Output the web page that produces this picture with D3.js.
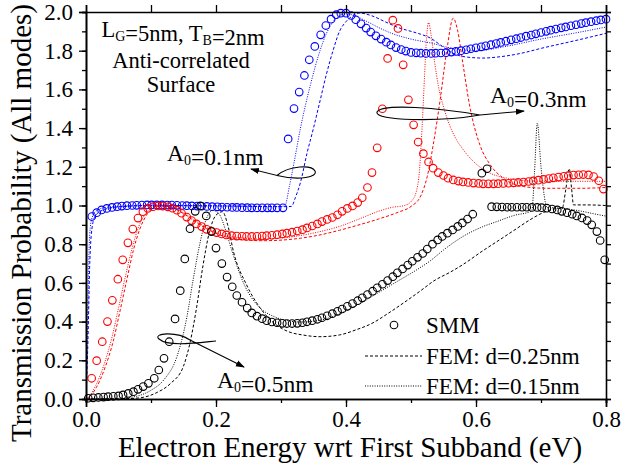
<!DOCTYPE html>
<html><head><meta charset="utf-8">
<script src="https://cdn.jsdelivr.net/npm/d3@7/dist/d3.min.js"></script>
<style>
body{margin:0;background:#fff}
svg{display:block}
text{font-family:"Liberation Serif","Times New Roman",serif;fill:#000}
</style>
</head><body>
<svg id="c" width="621" height="468"></svg>
<script>
// ---------- data ----------
const xMajor=[0,0.2,0.4,0.6,0.8];
const xMinor=[0,0.1,0.2,0.3,0.4,0.5,0.6,0.7,0.8];
const yMajor=[0,0.2,0.4,0.6,0.8,1.0,1.2,1.4,1.6,1.8,2.0];
const yMinor=[0,0.1,0.2,0.3,0.4,0.5,0.6,0.7,0.8,0.9,1.0,1.1,1.2,1.3,1.4,1.5,1.6,1.7,1.8,1.9,2.0];
const xTitle="Electron Energy wrt First Subband (eV)";
const yTitle="Transmission Probability (All modes)";
const legendLabels=["SMM","FEM: d=0.25nm","FEM: d=0.15nm"];

// SMM, A0=0.1nm (blue circles)
const smmA01=[[0.009,0.943],[0.0165,0.963],[0.024,0.977],[0.032,0.985],[0.040,0.990],[0.048,0.994],[0.055,0.997],[0.063,0.999],[0.071,1.000],[0.078,1.001],[0.086,1.002],[0.094,1.003],[0.101,1.003],[0.109,1.003],[0.117,1.003],[0.125,1.002],[0.132,1.002],[0.140,1.001],[0.148,1.000],[0.155,0.999],[0.163,0.998],[0.171,0.997],[0.178,0.996],[0.186,0.995],[0.194,0.994],[0.202,0.993],[0.209,0.992],[0.217,0.991],[0.225,0.990],[0.232,0.990],[0.240,0.989],[0.248,0.989],[0.255,0.988],[0.263,0.988],[0.271,0.988],[0.279,0.988],[0.286,0.988],[0.294,0.988],[0.303,0.988],
[0.311,1.344],[0.320,1.501],[0.328,1.586],[0.336,1.672],[0.3435,1.753],[0.352,1.822],[0.361,1.882],[0.369,1.930],[0.377,1.963],[0.385,1.986],[0.392,1.994],[0.400,1.994],[0.408,1.982],[0.415,1.960],[0.423,1.939],[0.431,1.917],[0.438,1.896],[0.446,1.877],[0.454,1.860],[0.462,1.844],[0.469,1.830],[0.477,1.816],[0.485,1.806],[0.492,1.798],[0.500,1.791],
[0.508,1.789],[0.515,1.787],[0.523,1.786],[0.531,1.786],[0.538,1.787],[0.546,1.788],[0.554,1.790],[0.562,1.793],[0.569,1.796],[0.577,1.800],[0.585,1.805],[0.592,1.810],[0.600,1.815],[0.608,1.820],[0.615,1.825],[0.623,1.831],[0.631,1.837],[0.638,1.843],[0.646,1.849],[0.654,1.856],[0.662,1.862],[0.669,1.868],[0.677,1.875],[0.685,1.881],[0.692,1.887],[0.700,1.894],[0.708,1.900],[0.715,1.906],[0.723,1.912],[0.731,1.918],[0.738,1.923],[0.746,1.929],[0.754,1.934],[0.762,1.940],[0.769,1.945],[0.777,1.950],[0.785,1.955],[0.792,1.959],[0.800,1.963]];
// FEM d=0.25 (dashed), A0=0.1nm
const femDA01=[[0,0],[0.003,0.3],[0.006,0.72],[0.01,0.9],[0.015,0.95],[0.025,0.975],[0.05,0.993],[0.1,1.0],[0.2,0.998],[0.3,0.994],[0.316,0.995],[0.322,1.04],[0.33,1.12],[0.34,1.27],[0.35,1.40],[0.36,1.54],[0.37,1.68],[0.38,1.80],[0.39,1.90],[0.40,1.95],[0.41,1.98],[0.42,1.995],[0.44,1.98],[0.46,1.95],[0.48,1.92],[0.50,1.90],[0.515,1.885],[0.53,1.865],[0.545,1.83],[0.56,1.795],[0.58,1.77],[0.61,1.762],[0.64,1.77],[0.67,1.787],[0.70,1.812],[0.75,1.85],[0.80,1.89]];
// FEM d=0.15 (dotted), A0=0.1nm
const femTA01=[[0,0],[0.002,0.3],[0.005,0.8],[0.008,0.92],[0.015,0.97],[0.03,0.99],[0.1,1.0],[0.2,0.998],[0.3,0.995],[0.306,1.0],[0.313,1.10],[0.32,1.22],[0.33,1.40],[0.345,1.62],[0.36,1.80],[0.37,1.89],[0.38,1.95],[0.39,1.98],[0.40,1.99],[0.41,1.985],[0.43,1.955],[0.45,1.92],[0.47,1.89],[0.50,1.86],[0.53,1.84],[0.56,1.815],[0.60,1.80],[0.65,1.825],[0.70,1.86],[0.75,1.89],[0.80,1.922]];

// SMM, A0=0.3nm (red circles)
const smmA03=[[0.0087,0.107],[0.0164,0.198],[0.025,0.296],[0.033,0.400],[0.0405,0.510],[0.049,0.619],[0.0565,0.719],[0.0645,0.807],[0.072,0.878],[0.080,0.935],[0.0875,0.968],[0.095,0.985],[0.103,0.994],[0.111,0.998],[0.118,0.997],[0.126,0.993],[0.133,0.986],[0.140,0.976],[0.147,0.960],[0.155,0.940],[0.1625,0.922],[0.170,0.905],[0.178,0.891],[0.1855,0.877],[0.193,0.868],[0.201,0.860],[0.2087,0.853],[0.216,0.848],[0.224,0.844],[0.232,0.842],[0.240,0.841],[0.247,0.840],[0.255,0.840],[0.263,0.841],[0.271,0.842],[0.278,0.844],[0.286,0.846],[0.294,0.849],[0.302,0.853],[0.309,0.857],[0.317,0.862],[0.325,0.868],[0.333,0.875],[0.340,0.884],[0.348,0.894],[0.356,0.905],[0.363,0.917],[0.371,0.928],[0.379,0.938],[0.387,0.952],[0.394,0.970],[0.402,0.985],[0.410,0.998],[0.418,1.015],[0.425,1.040],[0.433,1.093],[0.440,1.170],[0.448,1.298],[0.456,1.500],[0.464,1.760],[0.472,1.958],[0.480,1.915],[0.488,1.727],[0.496,1.546],[0.504,1.417],[0.511,1.328],[0.519,1.268],[0.527,1.225],[0.534,1.193],[0.542,1.170],[0.550,1.155],[0.557,1.141],[0.565,1.132],[0.573,1.126],[0.580,1.122],[0.588,1.119],[0.596,1.116],[0.604,1.114],[0.611,1.112],[0.619,1.112],[0.627,1.112],[0.634,1.113],[0.642,1.114],[0.650,1.115],[0.658,1.117],[0.665,1.119],[0.673,1.121],[0.681,1.124],[0.688,1.127],[0.696,1.131],[0.704,1.135],[0.712,1.139],[0.719,1.143],[0.727,1.147],[0.735,1.151],[0.742,1.154],[0.750,1.157],[0.758,1.159],[0.765,1.160],[0.773,1.158],[0.781,1.150],[0.789,1.128],[0.796,1.085]];
const femDA03=[[0,0],[0.005,0.01],[0.016,0.06],[0.029,0.16],[0.042,0.30],[0.052,0.45],[0.063,0.62],[0.073,0.77],[0.083,0.88],[0.093,0.95],[0.104,0.988],[0.115,0.998],[0.125,0.995],[0.135,0.985],[0.15,0.958],[0.17,0.912],[0.19,0.872],[0.21,0.843],[0.23,0.828],[0.25,0.821],[0.27,0.818],[0.30,0.821],[0.33,0.831],[0.36,0.848],[0.39,0.872],[0.42,0.90],[0.45,0.93],[0.48,0.965],[0.50,0.995],[0.515,1.05],[0.525,1.15],[0.535,1.33],[0.545,1.55],[0.555,1.80],[0.565,1.968],[0.572,1.90],[0.58,1.73],[0.59,1.52],[0.606,1.313],[0.622,1.21],[0.642,1.141],[0.673,1.098],[0.709,1.089],[0.76,1.089],[0.80,1.093]];
const femTA03=[[0,0],[0.004,0.01],[0.015,0.07],[0.028,0.18],[0.04,0.32],[0.05,0.47],[0.061,0.64],[0.071,0.78],[0.081,0.89],[0.091,0.955],[0.102,0.99],[0.113,1.0],[0.125,0.997],[0.135,0.988],[0.15,0.962],[0.17,0.918],[0.19,0.878],[0.21,0.85],[0.23,0.836],[0.25,0.83],[0.27,0.828],[0.30,0.832],[0.33,0.845],[0.36,0.865],[0.39,0.892],[0.42,0.93],[0.45,0.97],[0.47,0.99],[0.49,1.0],[0.50,1.02],[0.508,1.07],[0.513,1.18],[0.517,1.40],[0.521,1.68],[0.524,1.87],[0.527,1.945],[0.531,1.88],[0.536,1.75],[0.542,1.62],[0.55,1.51],[0.56,1.41],[0.57,1.34],[0.58,1.29],[0.60,1.215],[0.62,1.17],[0.65,1.14],[0.70,1.125],[0.75,1.125],[0.80,1.125]];

// SMM, A0=0.5nm (black circles)
const smmA05=[[0.0035,0.004],[0.011,0.006],[0.019,0.008],[0.027,0.010],[0.034,0.012],[0.042,0.014],[0.050,0.016],[0.057,0.021],[0.065,0.029],[0.073,0.038],[0.080,0.050],[0.088,0.064],[0.096,0.081],[0.105,0.107],[0.112,0.150],[0.120,0.210],[0.128,0.296],[0.137,0.414],[0.145,0.560],[0.152,0.724],[0.160,0.880],[0.168,0.970],[0.176,0.998],[0.185,0.946],[0.193,0.865],[0.200,0.780],[0.209,0.700],[0.217,0.630],[0.225,0.580],[0.232,0.535],[0.240,0.500],[0.248,0.470],[0.255,0.445],[0.263,0.428],[0.271,0.415],[0.278,0.405],[0.286,0.398],[0.294,0.394],[0.302,0.391],[0.309,0.390],[0.317,0.390],[0.325,0.391],[0.333,0.394],[0.340,0.399],[0.348,0.405],[0.356,0.412],[0.363,0.420],[0.371,0.430],[0.379,0.441],[0.387,0.453],[0.394,0.465],[0.402,0.479],[0.410,0.493],[0.418,0.508],[0.425,0.523],[0.433,0.540],[0.441,0.557],[0.448,0.575],[0.456,0.593],[0.464,0.612],[0.472,0.632],[0.479,0.652],[0.487,0.672],[0.495,0.692],[0.502,0.712],[0.510,0.732],[0.518,0.752],[0.525,0.775],[0.533,0.800],[0.541,0.822],[0.548,0.840],[0.556,0.857],[0.564,0.874],[0.572,0.892],[0.579,0.910],[0.587,0.930],[0.595,0.955],[0.609,1.167],[0.617,1.190],[0.624,0.994],[0.632,0.993],[0.640,0.992],[0.648,0.991],[0.655,0.991],[0.663,0.991],[0.671,0.991],[0.678,0.991],[0.686,0.990],[0.694,0.990],[0.701,0.989],[0.709,0.986],[0.717,0.982],[0.725,0.977],[0.732,0.970],[0.740,0.963],[0.748,0.955],[0.755,0.946],[0.763,0.936],[0.771,0.922],[0.778,0.900],[0.786,0.865],[0.791,0.819],[0.798,0.719]];
const femDA05=[[0,0],[0.05,0.001],[0.08,0.005],[0.11,0.035],[0.13,0.08],[0.15,0.17],[0.16,0.29],[0.17,0.47],[0.18,0.69],[0.19,0.865],[0.20,0.95],[0.21,0.968],[0.218,0.90],[0.227,0.76],[0.247,0.59],[0.268,0.47],[0.29,0.39],[0.31,0.35],[0.335,0.33],[0.36,0.322],[0.39,0.331],[0.415,0.357],[0.44,0.391],[0.465,0.443],[0.49,0.50],[0.515,0.56],[0.535,0.61],[0.56,0.655],[0.58,0.695],[0.61,0.765],[0.632,0.813],[0.66,0.875],[0.683,0.926],[0.70,0.958],[0.72,0.982],[0.733,0.99],[0.738,1.08],[0.7435,1.19],[0.747,1.09],[0.75,1.003],[0.77,1.003],[0.80,1.0]];
const femTA05=[[0,0],[0.04,0.002],[0.06,0.006],[0.08,0.016],[0.10,0.045],[0.12,0.10],[0.14,0.22],[0.155,0.42],[0.165,0.62],[0.175,0.80],[0.185,0.93],[0.195,0.975],[0.205,0.955],[0.215,0.87],[0.225,0.76],[0.245,0.58],[0.265,0.48],[0.29,0.425],[0.31,0.405],[0.33,0.398],[0.35,0.402],[0.37,0.415],[0.39,0.44],[0.42,0.49],[0.45,0.55],[0.48,0.61],[0.51,0.67],[0.53,0.715],[0.55,0.77],[0.58,0.84],[0.61,0.89],[0.632,0.917],[0.66,0.95],[0.683,0.968],[0.686,0.975],[0.690,1.17],[0.6943,1.425],[0.700,1.2],[0.705,1.05],[0.709,0.99],[0.72,0.988],[0.74,0.982],[0.76,0.972],[0.78,0.958],[0.80,0.945]];

const groups=[
  {color:"#0000ff", smm:smmA01, dash:femDA01, dot:femTA01},
  {color:"#ff0000", smm:smmA03, dash:femDA03, dot:femTA03},
  {color:"#000000", smm:smmA05, dash:femDA05, dot:femTA05}
];

// ---------- chart ----------
const svg=d3.select("#c");
const L=86,R=606,T=12,B=399;
const x=d3.scaleLinear().domain([0,0.8]).range([L,R]);
const y=d3.scaleLinear().domain([0,2]).range([B,T]);

const defs=svg.append("defs");
defs.append("clipPath").attr("id","clip")
  .append("rect").attr("x",L).attr("y",T).attr("width",R-L).attr("height",B-T);
defs.append("marker").attr("id","arr").attr("viewBox","0 0 10 10").attr("refX",9).attr("refY",5)
  .attr("markerWidth",9).attr("markerHeight",9).attr("markerUnits","userSpaceOnUse").attr("orient","auto")
  .append("path").attr("d","M0,1.5 L10,5 L0,8.5 Z").attr("fill","#000");

const line=d3.line().x(d=>x(d[0])).y(d=>y(d[1])).curve(d3.curveMonotoneX);
const plot=svg.append("g").attr("clip-path","url(#clip)");
groups.forEach(g=>{
  plot.append("path").attr("d",line(g.dash)).attr("fill","none").attr("stroke",g.color)
    .attr("stroke-width",1).attr("stroke-dasharray","3,2");
  plot.append("path").attr("d",line(g.dot)).attr("fill","none").attr("stroke",g.color)
    .attr("stroke-width",1).attr("stroke-dasharray","1,1.4");
});
groups.forEach(g=>{
  svg.append("g").selectAll("circle").data(g.smm).join("circle")
    .attr("cx",d=>x(d[0])).attr("cy",d=>y(d[1])).attr("r",3.8)
    .attr("fill","none").attr("stroke",g.color).attr("stroke-width",1.1);
});

// axes
const fmt=d3.format(".1f");
function styleAxis(g){g.select(".domain").attr("stroke-width",1.6);g.selectAll(".tick line").attr("stroke-width",1.3);g.selectAll("text").attr("font-size",23).attr("font-family","Liberation Serif");}
svg.append("g").attr("transform",`translate(0,${B})`).call(d3.axisBottom(x).tickValues(xMinor).tickSize(4).tickFormat("")).call(styleAxis);
svg.append("g").attr("transform",`translate(0,${B})`).call(d3.axisBottom(x).tickValues(xMajor).tickSize(8).tickPadding(4).tickFormat(fmt)).call(styleAxis);
svg.append("g").attr("transform",`translate(0,${T})`).call(d3.axisTop(x).tickValues(xMinor).tickSize(7).tickFormat("")).call(styleAxis);
svg.append("g").attr("transform",`translate(${L},0)`).call(d3.axisLeft(y).tickValues(yMinor).tickSize(4).tickFormat("")).call(styleAxis);
svg.append("g").attr("transform",`translate(${L},0)`).call(d3.axisLeft(y).tickValues(yMajor).tickSize(7).tickPadding(6).tickFormat(fmt)).call(styleAxis);
svg.append("g").attr("transform",`translate(${R},0)`).call(d3.axisRight(y).tickValues(yMinor).tickSize(5).tickFormat("")).call(styleAxis);

// titles
svg.append("text").attr("x",350).attr("y",457).attr("text-anchor","middle").attr("font-size",29).text(xTitle);
svg.append("text").attr("transform","translate(31,223) rotate(-90)").attr("text-anchor","middle").attr("font-size",29).text(yTitle);

// annotations
function subText(xp,yp,parts,anchor,fs){
  const t=svg.append("text").attr("x",xp).attr("y",yp).attr("font-size",fs||23.5).attr("text-anchor",anchor||"start");
  parts.forEach(p=>{
    if(p.sub){t.append("tspan").attr("dy",4).attr("font-size",14).text(p.sub);t.append("tspan").attr("dy",-4).text("");}
    else t.append("tspan").text(p.t);
  });
  return t;
}
subText(183,37,[{t:"L"},{sub:"G"},{t:"=5nm, T"},{sub:"B"},{t:"=2nm"}],"middle",22.5);
svg.append("text").attr("x",181).attr("y",68).attr("text-anchor","middle").attr("font-size",22.5).text("Anti-correlated");
svg.append("text").attr("x",181).attr("y",92).attr("text-anchor","middle").attr("font-size",22.5).text("Surface");
subText(167,161,[{t:"A"},{sub:"0"},{t:"=0.1nm"}]);
subText(490,103,[{t:"A"},{sub:"0"},{t:"=0.3nm"}]);
subText(217,388,[{t:"A"},{sub:"0"},{t:"=0.5nm"}]);

// loop arrows
const arrowPaths=[
  "M277,175.5 C300,181 318,177 315,171 C312,165 290,165 277,175.5 L251,169",
  "M480,115 C440,108 382,103 377,112 C374,121 440,122 480,115 L524,111",
  "M216,341 C196,343 168,347 159,339 C152,333 177,331 190,340 L244,367"
];
arrowPaths.forEach(d=>svg.append("path").attr("d",d).attr("fill","none").attr("stroke","#000").attr("stroke-width",1.1).attr("marker-end","url(#arr)"));

// legend
svg.append("circle").attr("cx",394).attr("cy",325).attr("r",3.8).attr("fill","none").attr("stroke","#000").attr("stroke-width",1.1);
svg.append("line").attr("x1",365).attr("x2",422).attr("y1",356).attr("y2",356).attr("stroke","#000").attr("stroke-dasharray","3,2");
svg.append("line").attr("x1",365).attr("x2",422).attr("y1",386).attr("y2",386).attr("stroke","#000").attr("stroke-dasharray","1,1.4");
[[333,0],[364,1],[394,2]].forEach(([yy,i])=>svg.append("text").attr("x",426).attr("y",yy).attr("font-size",23).text(legendLabels[i]));
</script>
</body></html>
